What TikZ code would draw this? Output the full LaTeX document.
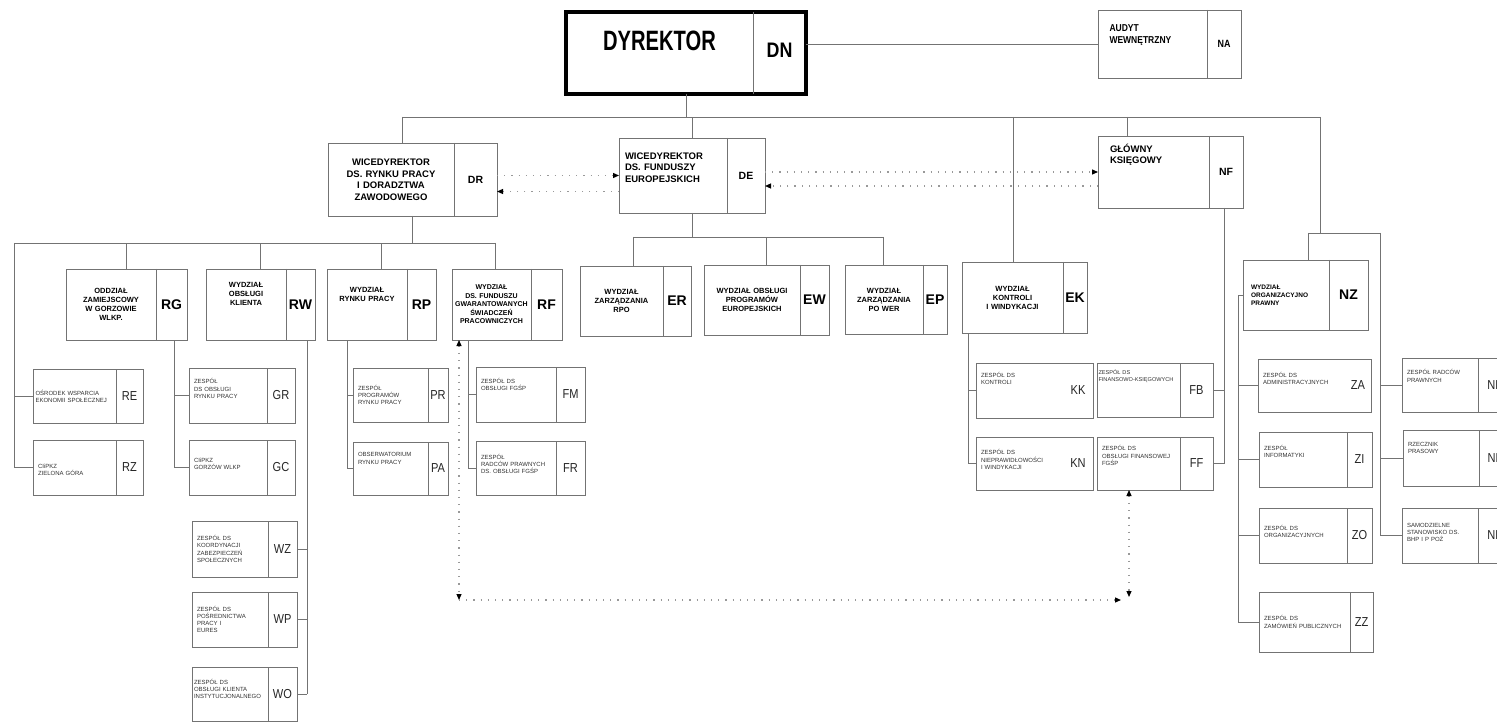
\documentclass[tikz,border=0pt]{standalone}
\usepackage{fontspec}
\setmainfont{Liberation Sans}
\newfontfamily\narrowfont[FakeStretch=0.72]{Liberation Sans}
\newfontfamily\semifont[FakeStretch=0.85]{Liberation Sans}
\usetikzlibrary{arrows.meta,calc}
\newcommand\fsz[2]{\fontsize{#1}{#2}\selectfont}
\def\cellpad{6}
% \unitbox[text options]{name}{x1}{y1}{x2}{y2}{divider x}{unit name}{unit code}
\newcommand\unitbox[9][]{%
  \pgfmathsetmacro\ubw{#5-#3}%
  \pgfmathsetmacro\ubh{#6-#4}%
  \pgfmathsetmacro\ubtw{#7-#3-\cellpad}%
  \node[unit, minimum width=\ubw pt, minimum height=\ubh pt, anchor=north west] (#2) at (#3,#4) {};
  \draw[divline] (#7,#4) -- (#7,#6);
  \node[txt, text width=\ubtw pt, #1] (#2-t) at ({(#3+#7)/2},{(#4+#6)/2}) {#8};
  \node[lab, #2-lab/.try] (#2-c) at ({(#7+#5)/2},{(#4+#6)/2}) {#9};
}
\tikzset{
  boxline/.style={draw=black!55, line width=0.8pt},
  divline/.style={boxline},
  unit/.style={boxline, fill=white, inner sep=0pt, outer sep=0pt},
  conn/.style={draw=black!55, line width=0.8pt},
  dotconn/.style={draw=black!40, line width=1.2pt, dash pattern=on 1.2pt off 6pt},
  tipend/.style={-{Triangle[length=6pt,width=5pt,color=black]}},
  tipboth/.style={{Triangle[length=6pt,width=5pt,color=black]}-{Triangle[length=6pt,width=5pt,color=black]}},
  txt/.style={inner sep=0pt, align=center},
  lab/.style={inner sep=0pt},
  dn-lab/.style={yshift=3pt},
}
\begin{document}
\begin{tikzpicture}[x=1pt,y=-1pt]
\useasboundingbox (0,0) rectangle (1497,722);
\fill[white] (0,0) rectangle (1497,722);
\clip (0,0) rectangle (1497,722);

% ---------- management ----------
\begin{scope}[unit/.append style={draw=black, line width=3.5pt},
  txt/.style={inner sep=0pt, align=center, font=\narrowfont\bfseries\fsz{28}{32}},
  lab/.style={inner sep=0pt, font=\semifont\bfseries\fsz{21}{24}}]
\unitbox[yshift=12pt]{dn}{566}{12}{806}{94}{753}{DYREKTOR}{DN}
\end{scope}

\begin{scope}[txt/.style={inner sep=0pt, align=left, font=\semifont\bfseries\fsz{10}{12}},
  lab/.style={inner sep=0pt, font=\semifont\bfseries\fsz{10.5}{12}}]
\unitbox[text width=86pt, yshift=9pt]{na}{1098}{10}{1241}{78}{1207}{AUDYT\\WEWNĘTRZNY}{NA}
\end{scope}

\begin{scope}[txt/.style={inner sep=0pt, align=center, font=\bfseries\fsz{9.5}{11.5}},
  lab/.style={inner sep=0pt, font=\bfseries\fsz{10.5}{12}}]
\unitbox{dr}{328}{143}{497}{216}{454}{WICEDYREKTOR\\DS. RYNKU PRACY\\I DORADZTWA\\ZAWODOWEGO}{DR}
\unitbox[align=left, text width=96pt, yshift=8pt]{de}{619}{138}{765}{213}{727}{WICEDYREKTOR\\DS. FUNDUSZY\\EUROPEJSKICH}{DE}
\unitbox[align=left, text width=87pt, yshift=17pt]{nf}{1098}{136}{1243}{208}{1209}{GŁÓWNY\\KSIĘGOWY}{NF}
\end{scope}

% ---------- departments ----------
\begin{scope}[txt/.style={inner sep=0pt, align=center, font=\bfseries\fsz{7.5}{9}},
  lab/.style={inner sep=0pt, font=\bfseries\fsz{14}{16}}]
\unitbox{rg}{66}{269}{187}{340}{156}{ODDZIAŁ\\ZAMIEJSCOWY\\W GORZOWIE\\WLKP.}{RG}
\unitbox[yshift=11pt]{rw}{206}{269}{315}{340}{286}{WYDZIAŁ\\OBSŁUGI\\KLIENTA}{RW}
\unitbox[yshift=10pt]{rp}{327}{269}{436}{340}{407}{WYDZIAŁ\\RYNKU PRACY}{RP}
\unitbox[font=\bfseries\fsz{7}{8.5}]{rf}{452}{269}{562}{340}{531}{WYDZIAŁ\\DS. FUNDUSZU\\GWARANTOWANYCH\\ŚWIADCZEŃ\\PRACOWNICZYCH}{RF}
\unitbox{er}{580}{266}{691}{336}{663}{WYDZIAŁ\\ZARZĄDZANIA\\RPO}{ER}
\unitbox{ew}{704}{265}{829}{335}{800}{WYDZIAŁ OBSŁUGI\\PROGRAMÓW\\EUROPEJSKICH}{EW}
\unitbox{ep}{845}{265}{947}{334}{923}{WYDZIAŁ\\ZARZĄDZANIA\\PO WER}{EP}
\unitbox{ek}{962}{262}{1087}{333}{1063}{WYDZIAŁ\\KONTROLI\\I WINDYKACJI}{EK}
\unitbox[align=left, text width=70pt, font=\bfseries\fsz{6.5}{8}]{nz}{1243}{260}{1368}{330}{1329}{WYDZIAŁ\\ORGANIZACYJNO\\PRAWNY}{NZ}
\end{scope}

% ---------- teams ----------
\begin{scope}[txt/.style={inner sep=0pt, align=left, font=\fsz{6}{7.2}, text=black!80},
  lab/.style={inner sep=0pt, font=\semifont\fsz{13}{15}, text=black!85}]
\def\cellpad{10}
\unitbox[text width=78pt]{re}{33}{369}{143}{423}{116}{OŚRODEK WSPARCIA\\EKONOMII SPOŁECZNEJ}{RE}
\unitbox[yshift=-2pt]{rz}{33}{440}{143}{495}{116}{CIiPKZ\\ZIELONA GÓRA}{RZ}
\unitbox[yshift=7pt]{gr}{189}{368}{295}{423}{267}{ZESPÓŁ\\DS OBSŁUGI\\RYNKU PRACY}{GR}
\unitbox[yshift=4pt]{gc}{189}{440}{295}{495}{267}{CIiPKZ\\GORZÓW WLKP}{GC}
\unitbox{wz}{192}{521}{297}{577}{268}{ZESPÓŁ DS\\KOORDYNACJI\\ZABEZPIECZEŃ\\SPOŁECZNYCH}{WZ}
\unitbox{wp}{192}{592}{297}{647}{268}{ZESPÓŁ DS\\POŚREDNICTWA\\PRACY I\\EURES}{WP}
\unitbox[yshift=5pt, text width=72pt]{wo}{192}{667}{297}{721}{268}{ZESPÓŁ DS\\OBSŁUGI KLIENTA\\INSTYTUCJONALNEGO}{WO}
\unitbox{pr}{353}{368}{448}{422}{428}{ZESPÓŁ\\PROGRAMÓW\\RYNKU PRACY}{PR}
\unitbox[yshift=10pt]{pa}{353}{442}{448}{495}{428}{OBSERWATORIUM\\RYNKU PRACY}{PA}
\unitbox[yshift=10pt]{fm}{476}{367}{585}{422}{556}{ZESPÓŁ DS\\OBSŁUGI FGŚP}{FM}
\unitbox[yshift=4pt]{fr}{476}{441}{585}{495}{556}{ZESPÓŁ\\RADCÓW PRAWNYCH\\DS. OBSŁUGI FGŚP}{FR}
\begin{scope}[divline/.style={draw=none}]
\unitbox[yshift=12pt]{kk}{976}{363}{1093}{418}{1063}{ZESPÓŁ DS\\KONTROLI}{KK}
\unitbox[yshift=4pt]{kn}{976}{437}{1093}{490}{1063}{ZESPÓŁ DS\\NIEPRAWIDŁOWOŚCI\\I WINDYKACJI}{KN}
\unitbox[yshift=7pt]{za}{1258}{359}{1371}{412}{1345}{ZESPÓŁ DS\\ADMINISTRACYJNYCH}{ZA}
\end{scope}
\unitbox[yshift=14pt, text width=80pt, font=\fsz{5.6}{7}]{fb}{1097}{363}{1213}{417}{1180}{ZESPÓŁ DS\\FINANSOWO-KSIĘGOWYCH}{FB}
\unitbox[yshift=8pt]{ff}{1097}{437}{1213}{490}{1180}{ZESPÓŁ DS\\OBSŁUGI FINANSOWEJ\\FGŚP}{FF}
\unitbox[yshift=8pt]{zi}{1259}{432}{1372}{487}{1347}{ZESPÓŁ\\INFORMATYKI}{ZI}
\unitbox[yshift=4pt]{zo}{1259}{508}{1372}{563}{1347}{ZESPÓŁ DS\\ORGANIZACYJNYCH}{ZO}
\unitbox{zz}{1259}{592}{1373}{652}{1350}{ZESPÓŁ DS\\ZAMÓWIEŃ PUBLICZNYCH}{ZZ}
\unitbox[yshift=9pt]{np}{1402}{358}{1512}{412}{1478}{ZESPÓŁ RADCÓW\\PRAWNYCH}{NP}
\unitbox[yshift=10pt]{nr}{1403}{430}{1512}{486}{1479}{RZECZNIK\\PRASOWY}{NR}
\unitbox[yshift=3pt]{nb}{1402}{508}{1512}{563}{1478}{SAMODZIELNE\\STANOWISKO DS.\\BHP I P POŻ}{NB}
\end{scope}

% ---------- reporting lines ----------
\draw[conn] (na.west) -- (na.west -| dn.east);
\coordinate (ba1) at (402,117);
\coordinate (ba2) at (1320,117);
\draw[conn] (ba1) -- (ba2);
\draw[conn] (dn.south) -- (dn.south |- ba1);
\draw[conn] (ba1) -- (ba1 |- dr.north);
\draw[conn] (de.north) -- (de.north |- ba1);
\coordinate (bek) at (1013,117);
\draw[conn] (bek) -- (bek |- ek.north);
\coordinate (bnf) at (1127,117);
\draw[conn] (bnf) -- (bnf |- nf.north);
\coordinate (bz1) at (1308,233);
\coordinate (bz2) at (1380,233);
\draw[conn] (ba2) -- (ba2 |- bz1);
\draw[conn] (bz1) -- (bz2);
\draw[conn] (bz1) -- (bz1 |- nz.north);
\draw[conn] (bz2) -- (bz2 |- nb.west);
\foreach \n in {np,nr,nb} \draw[conn] (bz2 |- \n.west) -- (\n.west);
\coordinate (zc) at (1238,0);
\draw[conn] (nz.west) -- (nz.west -| zc) -- (zc |- zz.west);
\foreach \n in {za,zi,zo,zz} \draw[conn] (zc |- \n.west) -- (\n.west);

% labour market division
\coordinate (bb1) at (14,243);
\coordinate (bb2) at (495,243);
\draw[conn] (dr.south) -- (dr.south |- bb1);
\draw[conn] (bb1) -- (bb2);
\foreach \n in {rg,rw,rp} \draw[conn] (\n.north) -- (\n.north |- bb1);
\draw[conn] (bb2) -- (bb2 |- rf.north);
\draw[conn] (bb1) -- (bb1 |- rz.west);
\foreach \n in {re,rz} \draw[conn] (bb1 |- \n.west) -- (\n.west);
\coordinate (cg) at (174,0);
\draw[conn] (cg |- rg.south) -- (cg |- gc.west);
\foreach \n in {gr,gc} \draw[conn] (cg |- \n.west) -- (\n.west);
\coordinate (cw) at (307,0);
\draw[conn] (cw |- rw.south) -- (cw |- wo.east);
\foreach \n in {wz,wp,wo} \draw[conn] (cw |- \n.east) -- (\n.east);
\coordinate (cp) at (347,0);
\draw[conn] (cp |- rp.south) -- (cp |- pa.west);
\foreach \n in {pr,pa} \draw[conn] (cp |- \n.west) -- (\n.west);
\coordinate (cf) at (468,0);
\draw[conn] (cf |- rf.south) -- (cf |- fr.west);
\foreach \n in {fm,fr} \draw[conn] (cf |- \n.west) -- (\n.west);

% EU funds division
\coordinate (bc1) at (633,237);
\coordinate (bc2) at (883,237);
\draw[conn] (de.south) -- (de.south |- bc1);
\draw[conn] (bc1) -- (bc2);
\draw[conn] (bc1) -- (bc1 |- er.north);
\draw[conn] (ew.north) -- (ew.north |- bc1);
\draw[conn] (bc2) -- (bc2 |- ep.north);
\coordinate (ck) at (968,0);
\draw[conn] (ck |- ek.south) -- (ck |- kn.west);
\foreach \n in {kk,kn} \draw[conn] (ck |- \n.west) -- (\n.west);

% chief accountant
\coordinate (cn) at (1224,0);
\draw[conn] (cn |- nf.south) -- (cn |- ff.east);
\foreach \n in {fb,ff} \draw[conn] (cn |- \n.east) -- (\n.east);

% ---------- cooperation links ----------
\draw[dotconn, tipend] (dr.east |- de.west) -- (de.west);
\draw[dotconn, tipend] ($(de.west)+(0,16)$) -- ($(dr.east |- de.west)+(0,16)$);
\draw[dotconn, tipend] (de.east |- nf.west) -- (nf.west);
\draw[dotconn, tipend] ($(nf.west)+(0,14)$) -- ($(de.east |- nf.west)+(0,14)$);
\coordinate (dq1) at (459,600);
\coordinate (dq2) at (1129,600);
\draw[dotconn, tipboth] (dq1 |- rf.south) -- (dq1);
\draw[dotconn, tipend] (dq1) -- ($(dq2)+(-8,0)$);
\draw[dotconn, tipboth] (dq2 |- ff.south) -- ($(dq2)+(0,-3)$);
\end{tikzpicture}
\end{document}
